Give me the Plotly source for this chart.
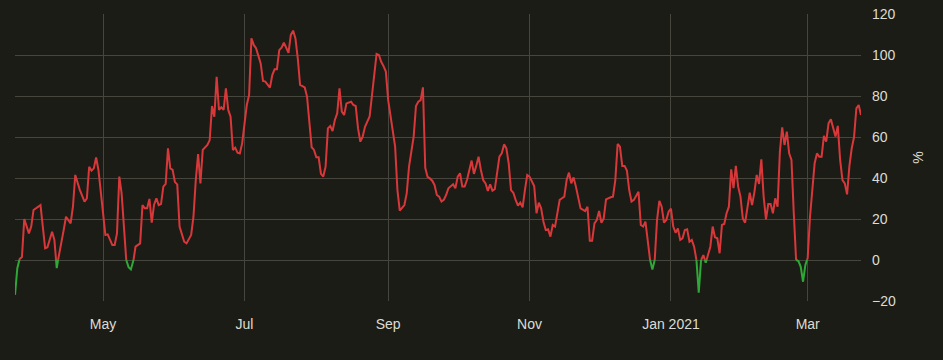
import pandas as pd
import plotly.graph_objects as go

# ---- data ----
start_date = "2020-03-23"
day_offsets = [
    1, 2, 3, 4, 5, 7, 8, 9, 12, 14, 15, 17, 18, 19, 21, 22, 23, 25, 26, 27, 29, 31, 32, 33, 34, 35, 36, 37,
    40, 41, 43, 44, 45, 46, 47, 49, 50, 51, 52, 53, 55, 56, 57, 58, 59, 60, 61, 62, 63, 64, 65, 66, 67, 68,
    69, 70, 71, 72, 74, 75, 77, 78, 79, 80, 81, 82, 84, 85, 86, 87, 88, 89, 90, 91, 92, 93, 94, 95, 96, 97,
    98, 99, 101, 102, 103, 104, 105, 107, 108, 109, 111, 112, 113, 114, 115, 116, 117, 118, 119, 120, 121,
    122, 123, 124, 126, 127, 128, 129, 130, 131, 132, 133, 134, 135, 136, 137, 138, 139, 140, 141, 142, 143,
    144, 146, 147, 148, 149, 150, 151, 152, 154, 156, 157, 158, 159, 160, 161, 162, 163, 165, 166, 167, 169,
    170, 171, 173, 174, 175, 176, 177, 178, 179, 180, 181, 182, 183, 184, 185, 186, 187, 188, 190, 191, 192,
    193, 194, 195, 196, 198, 199, 200, 201, 202, 203, 204, 205, 206, 207, 208, 210, 211, 212, 213, 214, 215,
    216, 217, 218, 219, 220, 221, 222, 223, 224, 225, 226, 227, 228, 229, 230, 231, 232, 233, 234, 235, 236,
    237, 238, 239, 240, 241, 242, 243, 244, 245, 247, 248, 249, 250, 251, 252, 253, 254, 255, 256, 258, 259,
    260, 261, 262, 263, 264, 265, 266, 267, 268, 270, 271, 272, 273, 274, 275, 276, 277, 278, 279, 280, 281,
    282, 283, 284, 285, 286, 287, 288, 289, 290, 291, 292, 293, 294, 295, 296, 297, 298, 299, 300, 301, 302,
    303, 304, 305, 306, 307, 308, 309, 310, 311, 312, 313, 314, 315, 316, 317, 318, 319, 320, 321, 322, 323,
    324, 325, 326, 327, 328, 329, 330, 331, 332, 333, 334, 335, 336, 337, 338, 339, 340, 341, 342, 343, 344,
    345, 346, 347, 348, 349, 350, 351, 352, 353, 354, 355, 356, 357, 358, 359, 360, 361, 362, 363, 364, 365,
    366,
]
values = [
    -17, -4, 0.5, 1.5, 20, 13, 16.3, 24.4, 26.8, 5.7, 6.2, 13.8, 9.8, -4, 9.8, 14.6, 21.1, 17.9, 26, 41.5,
    34.1, 28.5, 30, 45.5, 43.6, 44.7, 50, 43.9,
    12.2, 12.5, 7.3, 7.3, 13, 40.7, 32.5, 0, -3.5, -4.6, -1, 6.5, 8.1, 26.8, 25.2, 25.2, 29.8, 18.2, 27, 30.1,
    26.8, 27.3, 35.8, 37.1, 54.5, 44.7,
    44, 38, 36.9, 16.3, 8.9, 8.1, 12.2, 21.1, 39, 51.7, 37.4, 53.7, 56.1, 58.5, 75.1, 69.9, 89.4, 73.2, 74.5,
    73.2, 83.7, 73.2, 69.9, 53.7, 54.8, 52.4,
    52, 56.9, 75.6, 80.5, 108.1, 104.9, 103.3, 95.9, 87.3, 87, 84.1, 90.2, 93, 93, 102.4, 103.6, 106, 103.3,
    101.1, 109.8, 111.9,
    108.1, 98.4, 85.4, 84.2, 79.7, 66, 55, 53.7, 50.1, 50.1, 42, 40.7, 45.5, 64.2, 65.4, 62.9, 68.3, 71.5,
    83.7, 72.4, 70.7,
    76.4, 77.2, 75.6, 75.1, 64.2, 57.7, 60.2, 65, 70, 89.4, 100.5, 100, 96.7, 94.6, 91.9, 78, 70.7, 55.3,
    34.1, 24.1, 26.8,
    32.5, 45.5, 60.2, 75.1, 77.2, 78, 84.2, 45, 40.5, 39.8, 38.7, 36.6, 31.7, 30.9, 28.5, 29.3, 31.7, 35,
    36.9, 35, 40.7,
    42.3, 35.8, 35.8, 39, 48.5, 42, 45.9, 50.4, 43.9, 39, 37.4, 33.7, 36.9, 33.8, 34.5, 50.4, 52, 56.4, 54.5,
    47.2, 34.1,
    32.8, 29.3, 26.5, 28, 25.7, 34.1, 41.5, 40.7, 38.2, 36.1, 22.8, 28, 25.2, 18.7, 14.6, 15, 11.4, 17.1,
    16.3, 22.8, 29.3,
    30.1, 30.9, 39, 42.6, 37.4, 40.3, 35.8, 30.1, 25.2, 23.9, 26, 9.4, 9.4, 17.9, 19.5, 23.9, 18.2, 20.3,
    29.6, 30.6, 30.9,
    39, 56.6, 55.3, 45.9, 45.9, 43.6, 34.1, 28.5, 29.3, 33.3, 17.1, 16.3, 18.7, 9.8, 0, -4.6, 0, 19.5, 28.9,
    26, 18.2,
    19.5, 23.6, 25, 16.3, 13.3, 15.4, 9.8, 10.6, 14.6, 15, 8.9, 9.8, 6.5, 0, -15.9, 0, 2.4, -1.3, 2.4, 6.5,
    16.3,
    11.1, 10.6, 3.3, 17.1, 17.6, 22.8, 26, 44.2, 35, 45.9, 35.8, 30.9, 20.3, 18.2, 26, 32.8, 26.8, 33, 41.5,
    37.1, 49.1,
    30.9, 19.8, 27.3, 27.3, 22.8, 30.1, 26, 52.8, 64.7, 56.1, 62.6, 52, 48.8, 22.8, 0, -0.5, -3.3, -10.6,
    -2.4, 1, 21.1,
    32.5, 47.2, 52, 50.4, 50.4, 60.5, 57.7, 66.7, 68.6, 65, 60.2, 65.4, 48.8, 39, 37.4, 32, 45.9, 54.5, 60,
    74, 75.6,
    70.7,
]
tick_dates = ["2020-05-01", "2020-07-01", "2020-09-01", "2020-11-01", "2021-01-01", "2021-03-01"]
tick_labels = ["May", "Jul", "Sep", "Nov", "Jan 2021", "Mar"]
y_ticks = [-20, 0, 20, 40, 60, 80, 100, 120]
y_title = "%"

# ---- styles ----
BG = "#1c1c17"
GRID = "#46463f"
TEXT = "#dcdcd3"
RED = "#d8383a"
GREEN = "#2ea836"
FONT = "Liberation Sans, Arial, sans-serif"

dates = pd.Timestamp(start_date) + pd.to_timedelta(day_offsets, unit="D")

# insert the zero crossings so the line can change colour exactly at 0
pts_t, pts_v = [dates[0]], [values[0]]
for i in range(1, len(values)):
    v0, v1 = values[i - 1], values[i]
    if v0 * v1 < 0:
        t0, t1 = dates[i - 1], dates[i]
        frac = v0 / (v0 - v1)
        pts_t.append(t0 + (t1 - t0) * frac)
        pts_v.append(0.0)
    pts_t.append(dates[i])
    pts_v.append(values[i])

red_y = [v if v >= 0 else None for v in pts_v]
green_y = [v if v <= 0 else None for v in pts_v]

fig = go.Figure()
fig.add_trace(go.Scatter(x=pts_t, y=red_y, mode="lines",
                         line=dict(color=RED, width=2), showlegend=False,
                         hoverinfo="skip"))
fig.add_trace(go.Scatter(x=pts_t, y=green_y, mode="lines",
                         line=dict(color=GREEN, width=2), showlegend=False,
                         hoverinfo="skip"))

fig.update_layout(
    width=943, height=360,
    paper_bgcolor=BG, plot_bgcolor=BG,
    margin=dict(l=15, r=82, t=14, b=59),
    font=dict(family=FONT, size=14, color=TEXT),
    hovermode=False,
    xaxis=dict(
        range=[dates[0], dates[-1]],
        tickvals=tick_dates, ticktext=tick_labels,
        showgrid=True, gridcolor=GRID, gridwidth=1,
        zeroline=False, showline=False, ticks="",
        ticklabelstandoff=13, automargin=False,
    ),
    yaxis=dict(
        side="right", range=[-20, 120], tickvals=y_ticks,
        showgrid=True, gridcolor=GRID, gridwidth=1,
        zeroline=False, showline=False, ticks="",
        ticklabelstandoff=10, automargin=False,
        title=dict(text=y_title, standoff=18, font=dict(size=14, color=TEXT)),
    ),
)

fig.write_html(
    "out.html",
    config={"displayModeBar": False},
    post_script="document.body.style.margin='0';document.body.style.background='" + BG + "';",
)
